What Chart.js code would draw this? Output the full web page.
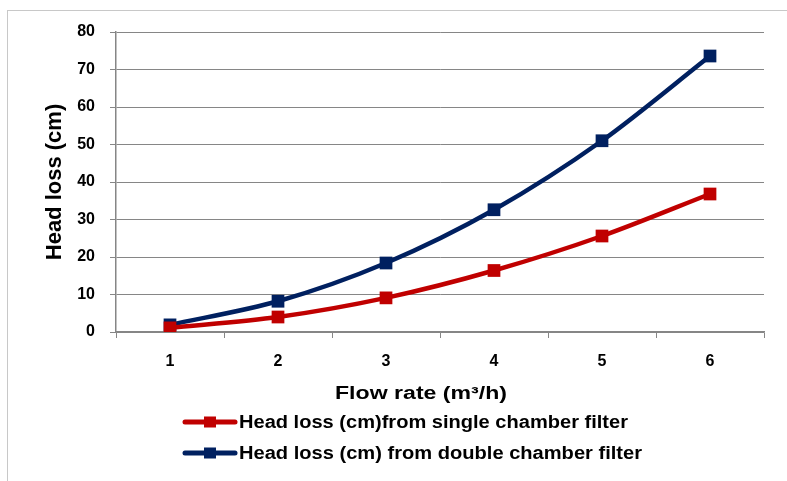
<!DOCTYPE html>
<html>
<head>
<meta charset="utf-8">
<script src="https://cdn.jsdelivr.net/npm/chart.js@4"></script>
<style>
  html, body { margin: 0; padding: 0; background: #fff; }
  #wrap { width: 787px; height: 481px; position: relative; }
</style>
</head>
<body>
<div id="wrap"><canvas id="chart1" width="787" height="481"></canvas></div>
<script>
const flowRates = ['1', '2', '3', '4', '5', '6'];
const singleChamber = [1.1, 4.0, 9.1, 16.4, 25.6, 36.8];
const doubleChamber = [1.9, 8.2, 18.4, 32.6, 51.0, 73.6];
const seriesNames = [
  'Head loss (cm)from single chamber filter',
  'Head loss (cm) from double chamber filter'
];
const seriesColors = ['#c00000', '#002060'];
const xTitle = 'Flow rate (m³/h)';

const FONT = '"Liberation Sans", Arial, sans-serif';

// text stretched sideways to a given width (the original text is wide)
function wideText(c, txt, x, y, size, width, align) {
  c.font = 'bold ' + size + 'px ' + FONT;
  const w = c.measureText(txt).width;
  const k = width / w;
  c.save();
  c.translate(align === 'center' ? x - width / 2 : x, y);
  c.scale(k, 1);
  c.textBaseline = 'middle';
  c.fillStyle = '#000';
  c.fillText(txt, 0, 0);
  c.restore();
}

// grey frame round the chart (runs off right/bottom like the original)
const framePlugin = {
  id: 'frame',
  beforeDraw(chart) {
    const c = chart.ctx;
    c.save();
    c.fillStyle = '#fff';
    c.fillRect(0, 0, chart.width, chart.height);
    c.strokeStyle = '#c8c8c8';
    c.lineWidth = 1;
    c.strokeRect(7.5, 10.5, 900, 600);
    c.restore();
  }
};

// x title + legend drawn by hand: long line with marker in the middle, two rows
const legendPlugin = {
  id: 'bottomLegend',
  afterDraw(chart) {
    const c = chart.ctx;
    wideText(c, xTitle, 421, 394, 18, 172, 'center');
    const rows = [422, 453];
    const widths = [389, 403];
    chart.data.datasets.forEach((ds, i) => {
      const y = rows[i];
      c.save();
      c.strokeStyle = ds.borderColor;
      c.lineWidth = 5;
      c.lineCap = 'round';
      c.beginPath();
      c.moveTo(185, y);
      c.lineTo(235, y);
      c.stroke();
      c.fillStyle = ds.borderColor;
      c.fillRect(204, y - 5.5, 12, 11);
      c.restore();
      wideText(c, ds.label, 239, y + 1, 18, widths[i], 'left');
    });
  }
};

const ctx1 = document.getElementById('chart1').getContext('2d');

new Chart(ctx1, {
  type: 'line',
  data: {
    labels: flowRates,
    datasets: [
      {
        label: seriesNames[0],
        data: singleChamber,
        borderColor: seriesColors[0],
        backgroundColor: seriesColors[0],
        borderWidth: 4.5,
        pointStyle: 'rect',
        pointRadius: 9,
        pointBorderWidth: 0,
        tension: 0.3
      },
      {
        label: seriesNames[1],
        data: doubleChamber,
        borderColor: seriesColors[1],
        backgroundColor: seriesColors[1],
        borderWidth: 4.5,
        pointStyle: 'rect',
        pointRadius: 9,
        pointBorderWidth: 0,
        tension: 0.3
      }
    ]
  },
  options: {
    responsive: false,
    animation: false,
    layout: {
      padding: { left: 0, top: 32, right: 23, bottom: 109 }
    },
    plugins: {
      legend: { display: false },
      tooltip: { enabled: false }
    },
    scales: {
      x: {
        offset: true,
        grid: {
          offset: true,
          drawOnChartArea: false,
          drawTicks: true,
          tickLength: 6,
          color: '#868686'
        },
        border: { color: '#868686', width: 1.5 },
        ticks: {
          color: '#000',
          padding: 14,
          font: { family: FONT, size: 16, weight: 'bold' }
        },
        afterFit(s) { s.height = 40; }
      },
      y: {
        min: 0,
        max: 80,
        ticks: {
          stepSize: 10,
          color: '#000',
          padding: 15,
          font: { family: FONT, size: 16, weight: 'bold' }
        },
        grid: {
          color: '#868686',
          tickLength: 6,
          lineWidth: 1
        },
        border: { color: '#868686', width: 1.5 },
        title: {
          display: true,
          text: 'Head loss (cm)',
          color: '#000',
          padding: { top: 42, bottom: 0 },
          font: { family: FONT, size: 22, weight: 'bold' }
        },
        afterFit(s) { s.width = 116; }
      }
    }
  },
  plugins: [framePlugin, legendPlugin]
});
</script>
</body>
</html>
